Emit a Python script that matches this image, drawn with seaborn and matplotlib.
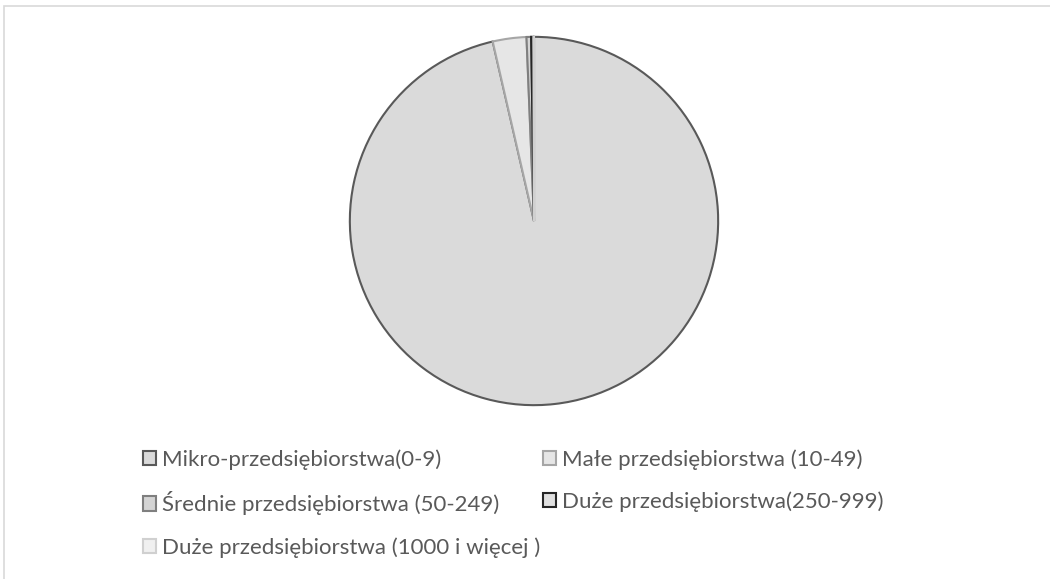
import matplotlib
matplotlib.use("Agg")
import matplotlib.pyplot as plt
from matplotlib.patches import Rectangle
import seaborn as sns

# ---- data ----
categories = [
    "Mikro-przedsiębiorstwa(0-9)",
    "Małe przedsiębiorstwa (10-49)",
    "Średnie przedsiębiorstwa (50-249)",
    "Duże przedsiębiorstwa(250-999)",
    "Duże przedsiębiorstwa (1000 i więcej )",
]
shares = [96.4, 2.95, 0.4, 0.2, 0.05]

# ---- styles ----
fills = ["#dadada", "#e6e6e6", "#d4d4d4", "#e0e0e0", "#f0f0f0"]
edges = ["#595959", "#a6a6a6", "#7f7f7f", "#262626", "#d0d0d0"]

sns.set_theme(style="white")
plt.rcParams["font.family"] = ["Lato", "DejaVu Sans"]

W, H = 1050, 579
fig = plt.figure(figsize=(W / 100, H / 100), dpi=100)
fig.patch.set_facecolor("white")

# chart-area border (left and top visible)
fig.patches.append(Rectangle((4 / W, -0.05), 1.2, 1 - 6 / H + 0.05,
                             transform=fig.transFigure, fill=False,
                             edgecolor="#d9d9d9", linewidth=1.2))

cx, cy, r = 534, 221, 186
ax = fig.add_axes([(cx - r) / W, 1 - (cy + r) / H, 2 * r / W, 2 * r / H])
wedges, _ = ax.pie(shares, startangle=90, counterclock=False, radius=1,
                   colors=fills,
                   wedgeprops=dict(linewidth=1.5))
for w, ec in zip(wedges, edges):
    w.set_edgecolor(ec)
ax.set_xlim(-1.01, 1.01)
ax.set_ylim(-1.01, 1.01)
ax.set_aspect("equal")
ax.axis("off")

# legend: two columns, filled row by row as in the original
common = dict(frameon=False, fontsize=16, labelcolor="#595959",
              handlelength=0.6, handleheight=0.6, handletextpad=0.25,
              labelspacing=0.98, borderpad=0, borderaxespad=0,
              loc="upper left")
col1 = [0, 2, 4]
col2 = [1, 3]
top = 1 - 449 / H
fig.legend([wedges[i] for i in col1], [categories[i] for i in col1],
           bbox_to_anchor=(143 / W, top), **common)
fig.legend([wedges[i] for i in col2], [categories[i] for i in col2],
           bbox_to_anchor=(543 / W, top), **common)

fig.savefig("out.png", dpi=100, facecolor="white")
